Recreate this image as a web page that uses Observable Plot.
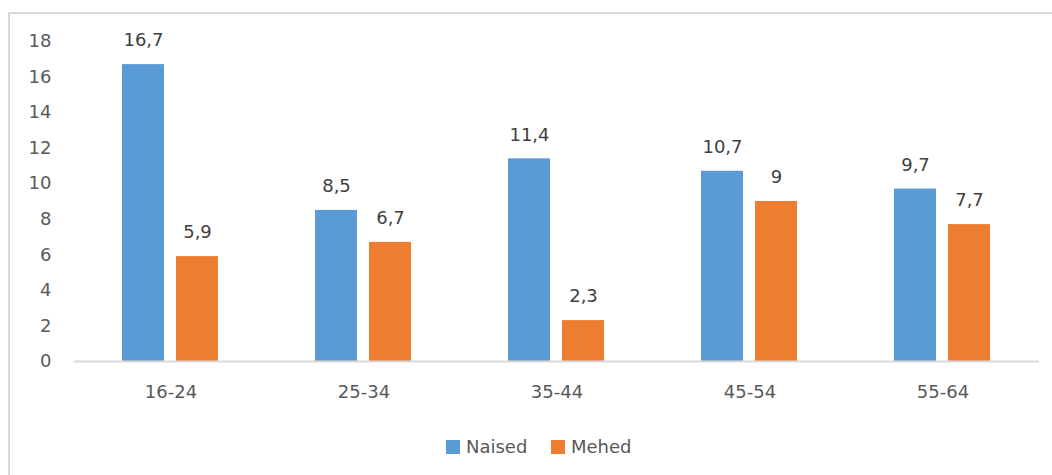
<!DOCTYPE html>
<html>
<head>
<meta charset="utf-8">
<script src="https://cdn.jsdelivr.net/npm/d3@7"></script>
<script src="https://cdn.jsdelivr.net/npm/@observablehq/plot@0.6"></script>
<style>
  html, body { margin: 0; padding: 0; background: #fff; width: 1052px; height: 475px; overflow: hidden; }
  #chart { position: absolute; left: 0; top: 0; }
  #frame { position: absolute; left: 8px; top: 12px; width: 1200px; height: 600px;
           border-top: 2px solid #d9d9d9; border-left: 2px solid #d9d9d9; pointer-events: none; }
  #legend { position: absolute; left: 0; top: 432px; width: 1052px; height: 32px;
            font-family: "DejaVu Sans", sans-serif; font-size: 18px; color: #595959; }
  .item { position: absolute; top: 4px; display: flex; align-items: center; }
  .sw { width: 14px; height: 14px; margin-right: 6px; display: inline-block; }
</style>
</head>
<body>
<div id="chart"></div>
<div id="frame"></div>
<div id="legend"></div>
<script>
const groups = ["16-24", "25-34", "35-44", "45-54", "55-64"];
const series = ["Naised", "Mehed"];
const naised = [16.7, 8.5, 11.4, 10.7, 9.7];
const mehed = [5.9, 6.7, 2.3, 9, 7.7];
const colors = ["#5B9BD5", "#ED7D31"];
const yTicks = [0, 2, 4, 6, 8, 10, 12, 14, 16, 18];

const rows = [];
groups.forEach((g, i) => {
  rows.push({group: g, series: series[0], value: naised[i]});
  rows.push({group: g, series: series[1], value: mehed[i]});
});
const fmt = v => String(v).replace(".", ",");

const chart = Plot.plot({
  width: 1052,
  height: 410,
  marginLeft: 73,
  marginRight: 12,
  marginTop: 41,
  marginBottom: 49,
  style: {fontFamily: "DejaVu Sans, sans-serif", fontSize: "18px", color: "#595959", background: "transparent", overflow: "visible"},
  facet: {data: rows, x: "group"},
  fx: {domain: groups, padding: 0, label: null, axis: "bottom", tickSize: 0, tickPadding: 24},
  x: {domain: series, paddingInner: 0.218, paddingOuter: 0.867, axis: null},
  y: {domain: [0, 18], ticks: yTicks, tickSize: 0, tickPadding: 23, label: null, line: false},
  color: {domain: series, range: colors},
  marks: [
    Plot.barY(rows, {x: "series", y: "value", fill: "series"}),
    Plot.ruleY([0], {stroke: "#d9d9d9", strokeWidth: 2}),
    Plot.text(rows, {x: "series", y: "value", text: d => fmt(d.value), dy: -24, fill: "#404040", fontSize: 18})
  ]
});
document.getElementById("chart").appendChild(chart);

const legend = document.getElementById("legend");
const lefts = [446, 551];
series.forEach((s, i) => {
  const it = document.createElement("div");
  it.className = "item";
  it.style.left = lefts[i] + "px";
  it.innerHTML = `<span class="sw" style="background:${colors[i]}"></span><span>${s}</span>`;
  legend.appendChild(it);
});
</script>
</body>
</html>
